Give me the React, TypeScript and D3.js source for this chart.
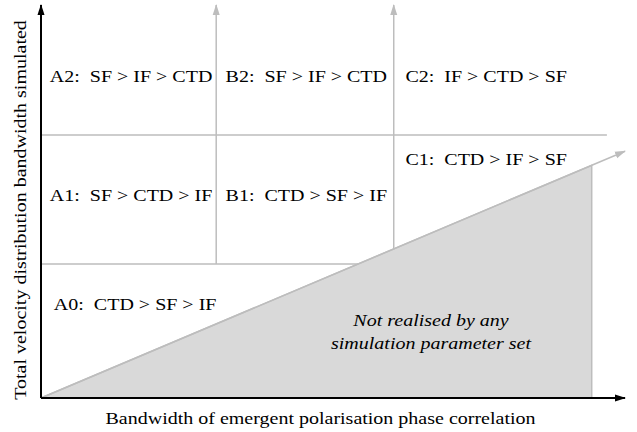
import React, { useEffect, useRef } from "react";
import * as d3 from "d3";

const W = 637;
const H = 432;

// abstract diagram coordinates (0..100 on both axes)
const verticalDividers = [30, 60.4];
const horizontalDividers = [34.1, 66.9];
const diagonalEnd = [100, 62.8];
const triangleRight = 94.3;
const upperLineEnd = 96.9;

const regionNames = ["A2", "B2", "C2", "A1", "B1", "C1", "A0"];
const regionOrders = [
  "SF > IF > CTD",
  "SF > IF > CTD",
  "IF > CTD > SF",
  "SF > CTD > IF",
  "CTD > SF > IF",
  "CTD > IF > SF",
  "CTD > SF > IF",
];
const regionX = [1.5, 31.6, 62.4, 1.5, 31.6, 62.4, 2.2];
const regionY = [80.5, 80.5, 80.5, 50.1, 50.1, 59.3, 22.4];

const noteLines = ["Not realised by any", "simulation parameter set"];
const xLabel = "Bandwidth of emergent polarisation phase correlation";
const yLabel = "Total velocity distribution bandwidth simulated";

const FONT = "Liberation Serif";
const BASE = 17; // largest size that keeps the serif face
const STRETCH = 20 / 17; // widen horizontally to the reference text width

function Label(props: { x: number; y: number; rotate?: number; anchor?: string; italic?: boolean; children: React.ReactNode }) {
  const { x, y, rotate = 0, anchor = "start", italic = false, children } = props;
  return (
    <text
      className="st"
      transform={`translate(${x},${y}) rotate(${rotate})`}
      x={0}
      y={0}
      fontFamily={FONT}
      fontSize={BASE}
      fontStyle={italic ? "italic" : "normal"}
      textAnchor={anchor}
      fill="#000"
      style={{ whiteSpace: "pre" }}
    >
      {children}
    </text>
  );
}

export default function App() {
  const ref = useRef<SVGSVGElement>(null);
  const x = d3.scaleLinear().domain([0, 100]).range([41, 625]);
  const y = d3.scaleLinear().domain([0, 100]).range([398, 5]);
  const slope = diagonalEnd[1] / diagonalEnd[0];
  const diagY = (v: number) => v * slope;
  const grey = "#bdbdbd";

  useEffect(() => {
    if (!ref.current) return;
    d3.select(ref.current)
      .selectAll<SVGTextElement, unknown>("text.st")
      .each(function () {
        this.removeAttribute("textLength");
        this.removeAttribute("lengthAdjust");
        const w = this.getComputedTextLength();
        this.setAttribute("textLength", String(w * STRETCH));
        this.setAttribute("lengthAdjust", "spacingAndGlyphs");
      });
  }, []);

  const tri = d3.line()([
    [x(0), y(0)],
    [x(triangleRight), y(diagY(triangleRight))],
    [x(triangleRight), y(0)],
  ]) + "Z";

  return (
    <svg ref={ref} width={W} height={H} style={{ position: "absolute", left: 0, top: 0 }}>
      <defs>
        <marker id="ab" viewBox="0 0 11 8" refX="10" refY="4" markerWidth="11" markerHeight="8" markerUnits="userSpaceOnUse" orient="auto">
          <path d="M0,0.5 L11,4 L0,7.5 Z" fill="#000" />
        </marker>
        <marker id="ag" viewBox="0 0 11 8" refX="10" refY="4" markerWidth="11" markerHeight="8" markerUnits="userSpaceOnUse" orient="auto">
          <path d="M0,0.5 L11,4 L0,7.5 Z" fill={grey} />
        </marker>
      </defs>
      <rect width={W} height={H} fill="#fff" />
      {/* grey triangle */}
      <path d={tri} fill="#d9d9d9" stroke={grey} strokeWidth={1.5} />
      {/* dividers */}
      <line x1={x(0)} x2={x(upperLineEnd)} y1={y(horizontalDividers[1])} y2={y(horizontalDividers[1])} stroke={grey} strokeWidth={1.5} />
      <line x1={x(0)} x2={x(horizontalDividers[0] / slope)} y1={y(horizontalDividers[0])} y2={y(horizontalDividers[0])} stroke={grey} strokeWidth={1.5} />
      <line x1={x(verticalDividers[0])} x2={x(verticalDividers[0])} y1={y(horizontalDividers[0])} y2={y(100)} stroke={grey} strokeWidth={1.5} markerEnd="url(#ag)" />
      <line x1={x(verticalDividers[1])} x2={x(verticalDividers[1])} y1={y(diagY(verticalDividers[1]))} y2={y(100)} stroke={grey} strokeWidth={1.5} markerEnd="url(#ag)" />
      <line x1={x(0)} y1={y(0)} x2={x(diagonalEnd[0])} y2={y(diagonalEnd[1])} stroke={grey} strokeWidth={1.5} markerEnd="url(#ag)" />
      {/* axes */}
      <line x1={x(0)} y1={y(0)} x2={x(100)} y2={y(0)} stroke="#000" strokeWidth={2} markerEnd="url(#ab)" />
      <line x1={x(0)} y1={y(0)} x2={x(0)} y2={y(100)} stroke="#000" strokeWidth={2} markerEnd="url(#ab)" />
      {/* region labels */}
      {regionNames.map((n, i) => (
        <Label key={n} x={x(regionX[i])} y={y(regionY[i])}>
          {n + ":  " + regionOrders[i]}
        </Label>
      ))}
      {noteLines.map((t, i) => (
        <Label key={t} x={431} y={326 + i * 23} anchor="middle" italic>
          {t}
        </Label>
      ))}
      <Label x={320.5} y={424} anchor="middle">{xLabel}</Label>
      <Label x={26} y={210} rotate={-90} anchor="middle">{yLabel}</Label>
    </svg>
  );
}
